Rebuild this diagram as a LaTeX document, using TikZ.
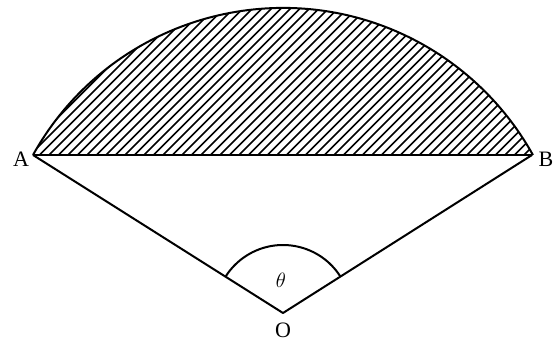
\documentclass[tikz,border=0pt]{standalone}
\usepackage{fontspec}
\setmainfont{Liberation Serif}
\begin{document}
\begin{tikzpicture}[x=1pt,y=1pt,
  edge/.style={line width=2pt, line join=round},
  hatch/.style={line width=1.7pt},
  lbl/.style={font=\fontsize{22}{22}\selectfont, inner sep=0pt}]
\useasboundingbox (0,0) rectangle (553,343);
\coordinate (A) at (33,188);
\coordinate (B) at (532,188);
\coordinate (O) at (283,30);
\coordinate (C) at (283,49);
% hatching
\begin{scope}
  \clip (A) arc[start angle=150.93, end angle=29.07, radius=286] -- cycle;
  \foreach \c in {-310,-300.5,...,360} {
    \draw[hatch] (\c+150,150) -- (\c+350,350);
  }
\end{scope}
\draw[edge] (A) arc[start angle=150.93, end angle=29.07, radius=286];
\draw[edge] (A) -- (B);
\draw[edge] (A) -- (O) -- (B);
\draw[edge] ([shift={(32.4:68)}]O) arc[start angle=32.4, end angle=147.7, radius=68];
\node[lbl] (la) at (21,184) {A};
\node[lbl] (lb) at (546,184) {B};
\node[lbl] (lo) at (283,13) {O};
\node[lbl] (lt) at (281,63) {$\theta$};
\end{tikzpicture}
\end{document}
